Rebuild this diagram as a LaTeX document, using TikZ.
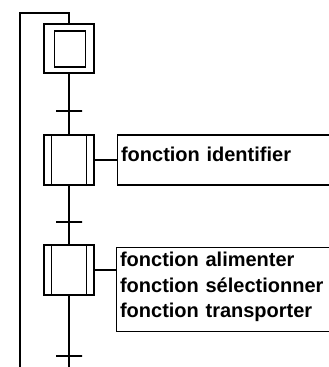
\documentclass[tikz,border=0pt]{standalone}
\usepackage{fontspec}
\setmainfont{Liberation Sans}
\usetikzlibrary{positioning}

\begin{document}
\begin{tikzpicture}[x=1pt, y=-1pt,
  stepbox/.style={draw, line width=1.6pt, minimum width=50pt, minimum height=50pt, inner sep=0pt},
  initin/.style={draw, line width=1.6pt, minimum width=31pt, minimum height=36pt, inner sep=0pt},
  trans/.style={draw, line width=1.8pt, minimum width=26pt, minimum height=0pt, inner sep=0pt},
  action/.style={draw, line width=1.1pt, text width=240pt, align=left, inner xsep=3.5pt,
    font=\bfseries\fontsize{20}{25.5}\selectfont},
  link/.style={line width=1.2pt}]
  \useasboundingbox (0,0) rectangle (329,367);
  \clip (0,0) rectangle (329,367);
  % steps
  \node[stepbox, minimum height=49pt] (s0) at (69,48.5) {};
  \node[initin] (s0in) at (70,49) {};
  \node[stepbox] (s1) at (69,160) {};
  \node[stepbox] (s2) at (69,270) {};
  \foreach \s in {s1,s2} {
    \draw[line width=1.3pt] ([xshift=8pt]\s.north west) -- ([xshift=8pt]\s.south west);
    \draw[line width=1.3pt] ([xshift=-8pt]\s.north east) -- ([xshift=-8pt]\s.south east);
  }
  % transitions
  \node[trans] (t1) at (69,111) {};
  \node[trans] (t2) at (69,222) {};
  \node[trans] (t3) at (69,356) {};
  \coordinate (bot) at (69,367);
  \coordinate (loopTop) at (20,13);
  \coordinate (loopEnd) at (20,367);
  % actions
  \node[action, anchor=west, minimum height=50pt, text height=14.6pt, text depth=11.6pt] (a1) at (117,160) {fonction identifier};
  \node[action, anchor=north west, inner ysep=4.5pt] (a2) at (116,247)
    {fonction alimenter\\fonction sélectionner\\fonction transporter\rule[-9.5pt]{0pt}{0pt}};
  % links
  \draw[link] (s0) -- (t1); \draw[link] (t1) -- (s1); \draw[link] (s1) -- (t2);
  \draw[link] (t2) -- (s2); \draw[link] (s2) -- (t3); \draw[link] (t3) -- (bot);
  \draw[link] (s0.north) |- (loopTop) -- (loopEnd);
  \draw[link] (s1.east) -- (a1.west);
  \draw[link] (s2.east) -- (s2.east -| a2.west);
\end{tikzpicture}
\end{document}
